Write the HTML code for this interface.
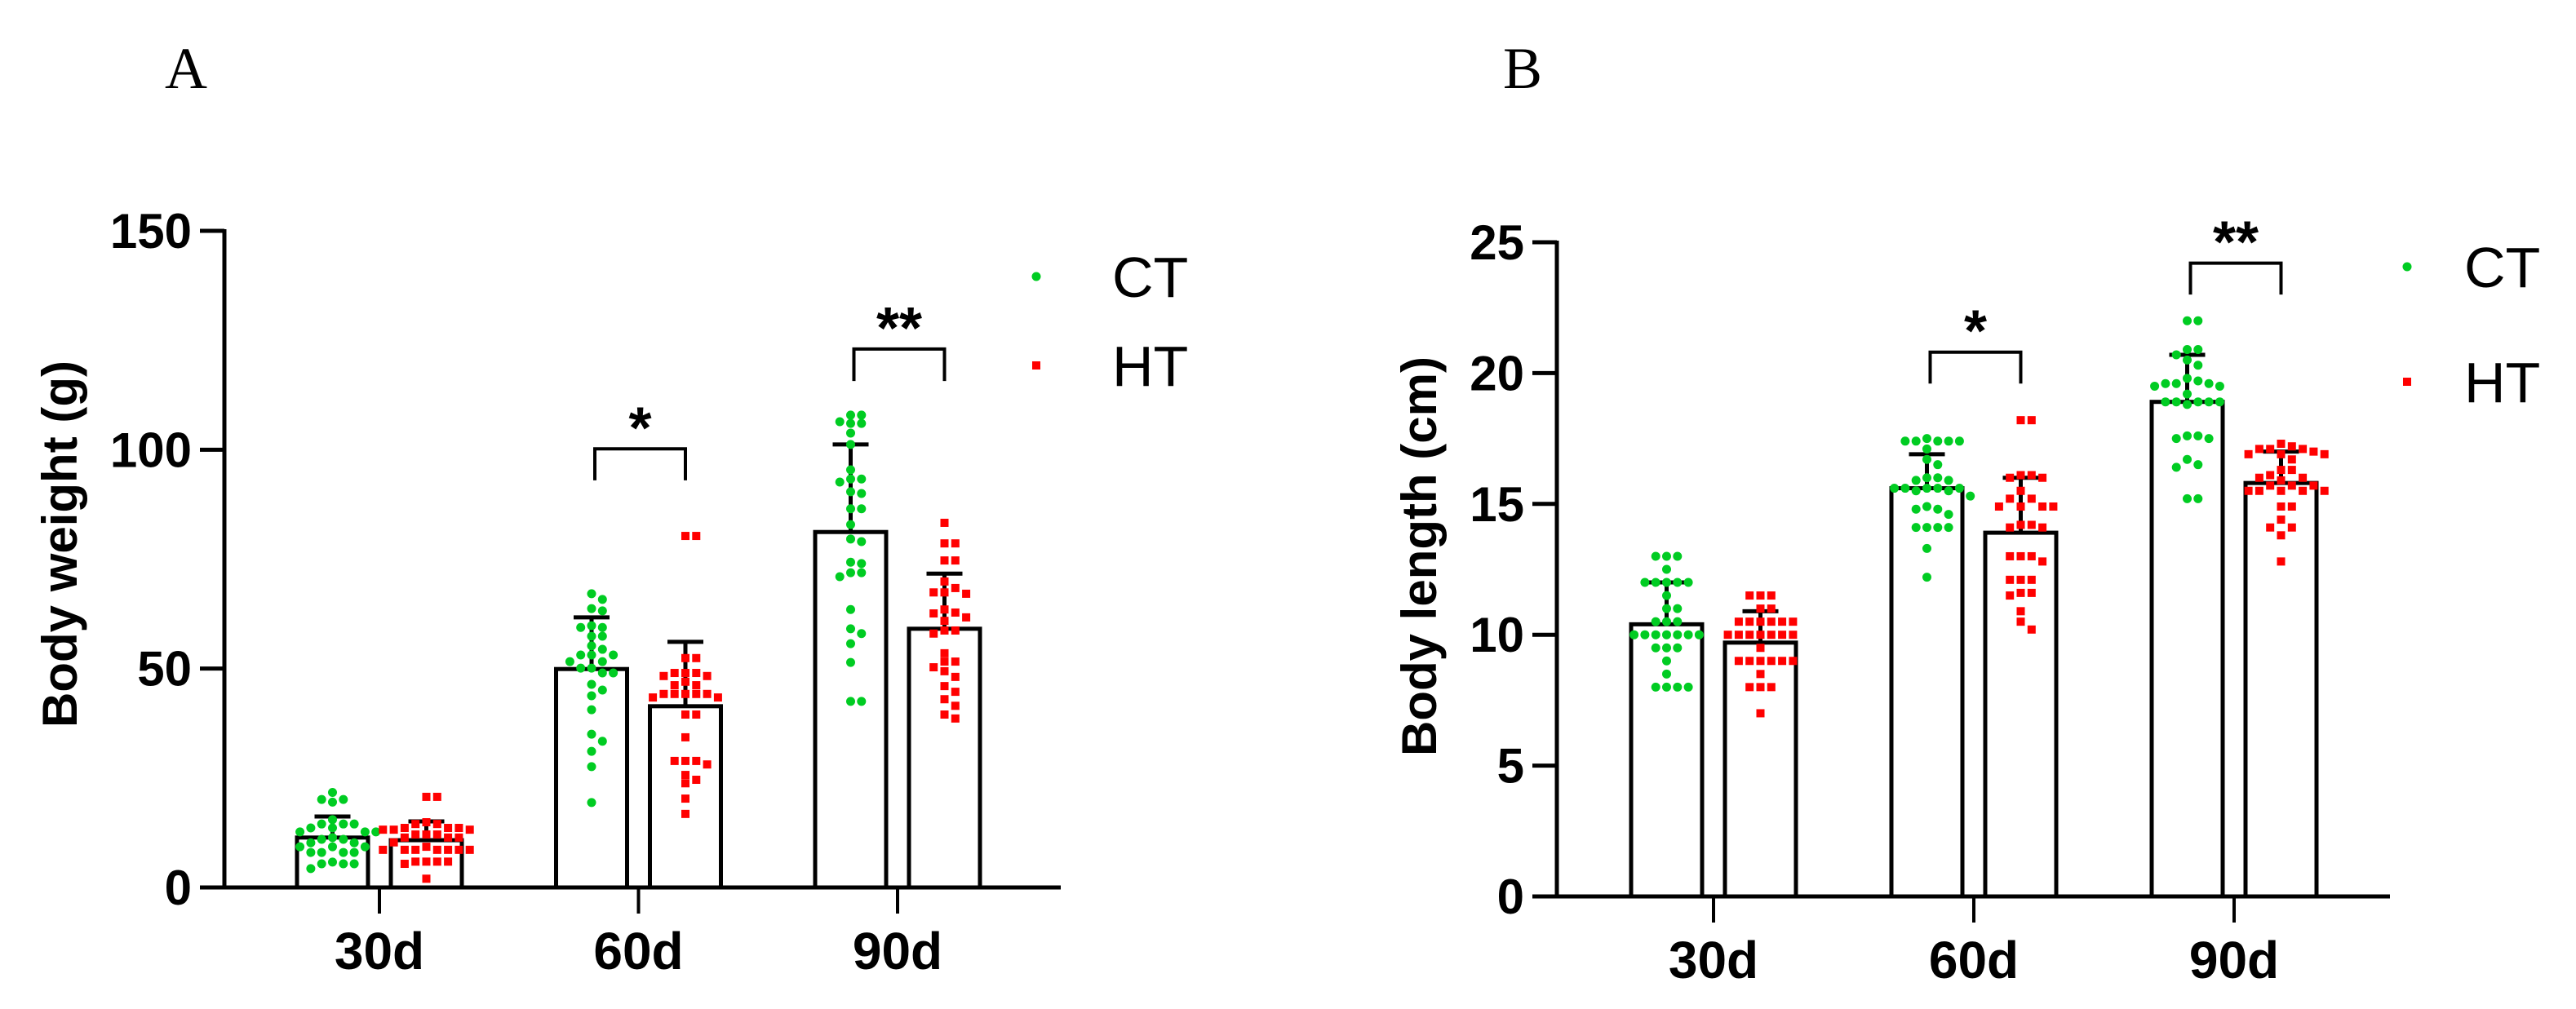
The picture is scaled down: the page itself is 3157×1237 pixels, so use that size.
<!DOCTYPE html>
<html>
<head>
<meta charset="utf-8">
<style>
html,body{margin:0;padding:0;background:#fff;}
svg{display:block;}
text{font-family:"Liberation Sans",Arial,sans-serif;}
</style>
</head>
<body>
<svg id="fig" xmlns="http://www.w3.org/2000/svg" width="3157" height="1237" viewBox="0 0 3157 1237">
  <rect x="0" y="0" width="3157" height="1237" fill="#fff"/>
  <text x="202" y="108" style="font-family:'Liberation Serif',serif" font-size="72">A</text>
  <text x="1842" y="108" style="font-family:'Liberation Serif',serif" font-size="72">B</text>
  <g id="panelA"></g>
  <g id="panelB"></g>
</svg>
<script>
const categories = ['30d', '60d', '90d'];

// Panel A: body weight (g)
const weightTicks = [0, 50, 100, 150];
const weightCtMean = [11.4, 49.9, 81.2];
const weightCtErr = [16.2, 61.7, 101.2];
const weightHtMean = [10.8, 41.4, 59.1];
const weightHtErr = [15.1, 56.1, 71.7];
const weightCt30 = [21.7,20.1,20.1,19.5,15.5,14.5,14.5,14.5,13.6,13.6,12.7,12.7,12.7,11.4,11.0,11.0,10.2,10.2,9.3,9.3,9.3,8.0,8.0,8.0,8.0,5.8,5.4,5.4,5.4,4.3];
const weightHt30 = [20.7,20.7,14.9,14.5,14.5,13.6,13.6,13.6,13.2,13.2,13.2,12.1,12.1,12.1,11.4,11.4,11.4,10.3,9.3,8.6,8.6,8.6,8.6,8.6,8.6,8.6,5.9,5.9,5.9,5.9,5.4,2.0];
const weightCt60 = [67.1,65.8,63.7,63.2,59.8,59.4,59.4,57.4,57.4,55.2,54.4,53.1,53.1,53.1,51.6,51.6,50.1,50.1,49.0,49.0,46.4,45.1,43.8,40.6,35.0,33.4,31.1,27.6,19.4];
const weightHt60 = [80.3,80.3,52.4,52.4,49.0,49.0,49.0,48.3,48.3,47.0,46.2,46.2,44.2,44.2,44.2,44.2,44.2,43.4,43.4,39.5,39.5,34.3,28.9,28.9,28.9,28.1,25.7,24.6,23.8,20.3,16.8];
const weightCt90 = [107.9,107.9,106.4,106.0,106.0,103.8,101.2,95.4,93.3,93.3,92.6,90.4,90.0,86.5,86.5,82.9,79.6,79.0,74.3,74.0,71.9,71.9,71.0,63.5,59.1,58.0,55.7,51.4,42.5,42.5];
const weightHt90 = [83.3,78.6,78.6,74.7,74.7,69.9,68.4,67.4,67.4,67.1,63.5,62.8,62.6,61.7,60.9,58.7,58.7,58.0,53.5,51.6,51.6,50.3,49.4,48.1,46.0,44.7,43.0,41.5,39.5,38.6];
const weightSigCat = [1, 2];
const weightSigLabel = ['*', '**'];
const weightSigTop = [100.2, 123.0];
const weightSigBottom = [93.0, 115.7];

// Panel B: body length (cm)
const lengthTicks = [0, 5, 10, 15, 20, 25];
const lengthCtMean = [10.4, 15.6, 18.9];
const lengthCtErr = [12.0, 16.9, 20.7];
const lengthHtMean = [9.7, 13.9, 15.8];
const lengthHtErr = [10.9, 16.0, 17.0];
const lengthCt30 = [13,13,13,12.5,12,12,12,12,12,11.5,11,11,10.5,10.5,10.5,10,10,10,10,10,10,10,9.5,9.5,9.5,9,8.5,8,8,8,8];
const lengthHt30 = [11.5,11.5,11.5,11,11,10.5,10.5,10.5,10.5,10.5,10.5,10,10,10,10,10,10,10,9.5,9,9,9,9,9,9,8.5,8,8,8,7];
const lengthCt60 = [17.5,17.4,17.4,17.4,17.4,17.4,17.1,16.7,16.5,16.0,16.0,15.9,15.9,15.6,15.6,15.6,15.6,15.6,15.5,15.5,15.3,14.9,14.8,14.8,14.6,14.1,14.1,14.1,14.1,13.3,12.2];
const lengthHt60 = [18.2,18.2,16.1,16.1,16.0,16.0,15.5,15.2,15.2,14.9,14.9,14.9,14.9,14.2,14.2,14.1,14.1,13.0,13.0,13.0,12.8,12.1,12.1,12.1,11.6,11.6,11.5,10.9,10.5,10.2];
const lengthCt90 = [22.0,22.0,20.9,20.9,20.7,20.5,20.3,19.8,19.7,19.6,19.6,19.6,19.5,19.5,19.2,18.9,18.9,18.9,18.9,18.9,18.8,17.6,17.6,17.5,17.5,16.7,16.5,16.4,15.2,15.2];
const lengthHt90 = [17.3,17.2,17.1,17.1,17.1,17.0,16.9,16.9,16.9,16.7,16.3,16.3,16.1,16.0,16.0,15.9,15.7,15.7,15.7,15.5,15.5,15.5,15.5,15.5,14.9,14.9,14.4,14.1,14.1,13.8,12.8];
const lengthSigCat = [1, 2];
const lengthSigLabel = ['*', '**'];
const lengthSigTop = [20.8, 24.2];
const lengthSigBottom = [19.6, 23.0];

const NS = 'http://www.w3.org/2000/svg';
function mk(parent, tag, attrs) {
  const el = document.createElementNS(NS, tag);
  for (const k in attrs) el.setAttribute(k, attrs[k]);
  parent.appendChild(el);
  return el;
}

function drawPanel(g, cfg) {
  const yScale = v => cfg.y0 - (v - cfg.vmin) / (cfg.vmax - cfg.vmin) * (cfg.y0 - cfg.y1);
  const xCat = i => cfg.cat0 + i * cfg.catStep;
  const barW = 87, off = 57.5;

  const yAxis = mk(g, 'line', {x1: cfg.ax, y1: yScale(cfg.vmax) - 2, x2: cfg.ax, y2: cfg.y0 + 2, stroke: '#000', 'stroke-width': 5});
  
  
  const xAxis = mk(g, 'line', {x1: cfg.ax - 30, y1: cfg.y0, x2: cfg.axEnd, y2: cfg.y0, stroke: '#000', 'stroke-width': 5});
  
  

  cfg.ticks.forEach(t => {
    const y = yScale(t);
    const tk = mk(g, 'line', {x1: cfg.ax - 30, y1: y, x2: cfg.ax, y2: y, stroke: '#000', 'stroke-width': 5});
    
    
    const lb = mk(g, 'text', {x: cfg.ax - 40, y: y + 21, 'text-anchor': 'end', 'font-size': 60, 'font-weight': 'bold'});
    lb.textContent = t;
    
    
  });

  const title = mk(g, 'text', {x: 0, y: 0, 'text-anchor': 'middle', 'font-size': 60, 'font-weight': 'bold',
    transform: 'translate(' + cfg.titleX + ',' + cfg.titleY + ') rotate(-90)'});
  title.textContent = cfg.title;
  
  

  categories.forEach((c, i) => {
    const x = xCat(i);
    const tk = mk(g, 'line', {x1: x, y1: cfg.y0, x2: x, y2: cfg.y0 + 32, stroke: '#000', 'stroke-width': 4});
    
    
    const lb = mk(g, 'text', {x: x, y: cfg.y0 + 100, 'text-anchor': 'middle', 'font-size': 64, 'font-weight': 'bold'});
    lb.textContent = c;
    
    
  });

  const groups = [
    {name: 'ct', mean: cfg.ctMean, err: cfg.ctErr, pts: cfg.ctPts, dx: -off, color: '#00cc22', shape: 'circle'},
    {name: 'ht', mean: cfg.htMean, err: cfg.htErr, pts: cfg.htPts, dx: off, color: '#ff0000', shape: 'square'}
  ];

  groups.forEach(gr => {
    categories.forEach((c, i) => {
      const cx = xCat(i) + gr.dx;
      const yt = yScale(gr.mean[i]);
      const b = mk(g, 'rect', {x: cx - barW / 2, y: yt, width: barW, height: cfg.y0 - yt, fill: '#fff', stroke: '#000', 'stroke-width': 5});
      
      
    });
  });
  groups.forEach(gr => {
    categories.forEach((c, i) => {
      const cx = xCat(i) + gr.dx;
      const ym = yScale(gr.mean[i]), ye = yScale(gr.err[i]);
      const e = mk(g, 'path', {d: 'M' + cx + ' ' + ym + ' V' + ye + ' M' + (cx - 22) + ' ' + ye + ' H' + (cx + 22), stroke: '#000', 'stroke-width': 5, fill: 'none'});
      
      
    });
  });
  groups.forEach(gr => {
    categories.forEach((c, i) => {
      const cx = xCat(i) + gr.dx;
      const vals = gr.pts[i].slice().sort((a, b) => b - a);
      const placed = [];
      const lane = 13.3;
      const order = [0];
      for (let j = 1; j < 12; j++) { order.push(j); order.push(-j); }
      vals.forEach(v => {
        const y = yScale(v);
        let ox = 0;
        for (const o of order) {
          const px = o * lane;
          if (!placed.some(p => Math.abs(p.x - px) < 10 && Math.abs(p.y - y) < 10)) { ox = px; break; }
        }
        placed.push({x: ox, y: y});
        let el;
        if (gr.shape === 'circle') {
          el = mk(g, 'circle', {cx: cx + ox, cy: y, r: 5.5, fill: gr.color});
        } else {
          el = mk(g, 'rect', {x: cx + ox - 5, y: y - 5, width: 10, height: 10, fill: gr.color});
        }
        
        
      });
    });
  });

  cfg.sigCat.forEach((ci, k) => {
    const xl = xCat(ci) - off + 4, xr = xCat(ci) + off;
    const yt = yScale(cfg.sigTop[k]), yb = yScale(cfg.sigBottom[k]);
    const br = mk(g, 'path', {d: 'M' + xl + ' ' + yb + ' V' + yt + ' H' + xr + ' V' + yb, stroke: '#000', 'stroke-width': 4, fill: 'none'});
    
    
    const st = mk(g, 'text', {x: (xl + xr) / 2, y: yt - 1, 'text-anchor': 'middle', 'font-size': 72, 'font-weight': 'bold'});
    st.textContent = cfg.sigLabel[k];
    
    
  });

  const ld1 = mk(g, 'circle', {cx: cfg.legX, cy: cfg.legY1, r: 5.5, fill: '#00cc22'});
  
  
  const lt1 = mk(g, 'text', {x: cfg.legTextX, y: cfg.legY1 + 25, 'font-size': 70});
  lt1.textContent = 'CT';
  
  
  const ld2 = mk(g, 'rect', {x: cfg.legX - 5, y: cfg.legY2 - 5, width: 10, height: 10, fill: '#ff0000'});
  
  
  const lt2 = mk(g, 'text', {x: cfg.legTextX, y: cfg.legY2 + 25, 'font-size': 70});
  lt2.textContent = 'HT';
  
  
}

drawPanel(document.getElementById('panelA'), {
  vmin: 0, vmax: 150, y0: 1088, y1: 283, ax: 275, axEnd: 1300,
  cat0: 465, catStep: 317.5, ticks: weightTicks,
  title: 'Body weight (g)', titleX: 94, titleY: 667,
  ctMean: weightCtMean, ctErr: weightCtErr, htMean: weightHtMean, htErr: weightHtErr,
  ctPts: [weightCt30, weightCt60, weightCt90], htPts: [weightHt30, weightHt60, weightHt90],
  sigCat: weightSigCat, sigLabel: weightSigLabel, sigTop: weightSigTop, sigBottom: weightSigBottom,
  legX: 1270, legTextX: 1363, legY1: 339, legY2: 448
});
drawPanel(document.getElementById('panelB'), {
  vmin: 0, vmax: 25, y0: 1099, y1: 297, ax: 1908, axEnd: 2929,
  cat0: 2100, catStep: 319, ticks: lengthTicks,
  title: 'Body length (cm)', titleX: 1760, titleY: 682,
  ctMean: lengthCtMean, ctErr: lengthCtErr, htMean: lengthHtMean, htErr: lengthHtErr,
  ctPts: [lengthCt30, lengthCt60, lengthCt90], htPts: [lengthHt30, lengthHt60, lengthHt90],
  sigCat: lengthSigCat, sigLabel: lengthSigLabel, sigTop: lengthSigTop, sigBottom: lengthSigBottom,
  legX: 2950, legTextX: 3020, legY1: 327, legY2: 468
});
</script>
</body>
</html>
